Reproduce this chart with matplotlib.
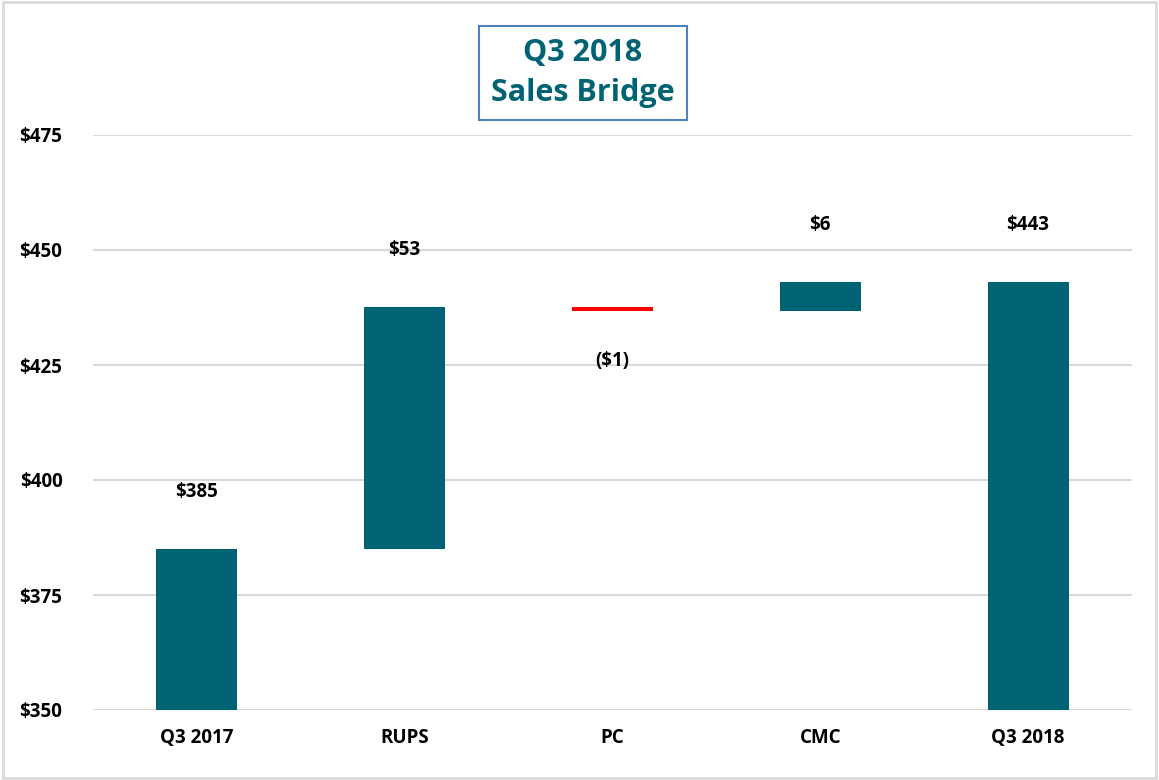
import numpy as np
import matplotlib.pyplot as plt
from matplotlib.ticker import FuncFormatter

# data
categories = ["Q3 2017", "RUPS", "PC", "CMC", "Q3 2018"]
start_value = 385.0
changes = [52.6, -0.8, 6.2]
end_value = 443.0

teal = "#006373"
red = "#ff0000"
grid_col = "#d9d9d9"

plt.rcParams['font.family'] = ['Open Sans', 'DejaVu Sans']
plt.rcParams['font.weight'] = 'bold'

fig = plt.figure(figsize=(11.59, 7.80), dpi=100)
ax = fig.add_axes([93/1159, 1 - 710/780, (1132 - 93)/1159, (710 - 135)/780])

x = np.arange(len(categories))
width = 0.39

# bottoms/heights for the bridge
cum = start_value + np.cumsum(changes)
prev = np.concatenate([[start_value], cum[:-1]])
bottoms = [350.0] + list(np.minimum(prev, cum)) + [350.0]
heights = [start_value - 350.0] + list(np.abs(changes)) + [end_value - 350.0]
colors = [teal] + [teal if c >= 0 else red for c in changes] + [teal]

ax.bar(x, heights, bottom=bottoms, width=width, color=colors, zorder=3)

# labels
def fmt(v):
    v = int(round(v))
    return f"${v}" if v >= 0 else f"(${-v})"

label_vals = [start_value] + changes + [end_value]
tops = [start_value] + list(np.maximum(prev, cum)) + [end_value]
for i, v in enumerate(label_vals):
    if v >= 0:
        ax.text(x[i], tops[i] + 12.5, fmt(v), ha='center', va='center',
                fontsize=13.5, fontweight='bold', color='black')
    else:
        ax.text(x[i], bottoms[i] - 11, fmt(v), ha='center', va='center',
                fontsize=13.5, fontweight='bold', color='black')

ax.set_xlim(-0.5, len(categories) - 0.5)
ax.set_ylim(350, 475)
ax.set_yticks(np.arange(350, 476, 25))
ax.yaxis.set_major_formatter(FuncFormatter(lambda v, p: f"${int(v)}"))
ax.set_xticks(x)
ax.set_xticklabels(categories)
ax.tick_params(axis='both', length=0, labelsize=13.5, colors='black')
ax.tick_params(axis='y', pad=22)
ax.tick_params(axis='x', pad=13)
for lab in ax.get_xticklabels() + ax.get_yticklabels():
    lab.set_fontweight('bold')

ax.grid(axis='y', color=grid_col, linewidth=1.5, zorder=0)
for s in ax.spines.values():
    s.set_visible(False)

# title box
fig.text(583/1159, 1 - 73/780, "Q3 2018\nSales Bridge", ha='center', va='center',
         fontsize=22, fontweight='bold', color=teal, linespacing=1.45,
         bbox=dict(boxstyle='square,pad=0.4', facecolor='white', edgecolor='#4f81bd', linewidth=1.5))

# outer border
fig.patches.append(plt.Rectangle((0.003, 0.003), 0.994, 0.994, transform=fig.transFigure,
                                 fill=False, edgecolor=grid_col, linewidth=2))

fig.savefig("out.png", dpi=100)
